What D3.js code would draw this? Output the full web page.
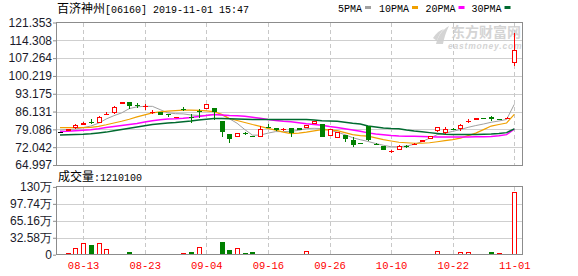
<!DOCTYPE html>
<html>
<head>
<meta charset="utf-8">
<script src="https://cdn.jsdelivr.net/npm/d3@7"></script>
<style>
  body { margin: 0; background: #fff; }
  svg { display: block; }
</style>
</head>
<body>
<svg id="chart" width="578" height="276"></svg>
<script>
// ---- data ----
const dates = ["08-08","08-09","08-12","08-13","08-14","08-15","08-16","08-19","08-20","08-21",
  "08-22","08-23","08-26","08-27","08-28","08-29","08-30","09-02","09-03","09-04",
  "09-05","09-06","09-09","09-10","09-11","09-12","09-13","09-16","09-17","09-18",
  "09-19","09-20","09-23","09-24","09-25","09-26","09-27","09-30","10-02","10-03",
  "10-04","10-08","10-09","10-10","10-11","10-14","10-15","10-16","10-17","10-18",
  "10-21","10-22","10-23","10-24","10-25","10-28","10-29","10-30","10-31","11-01"];

const open = [77.9,78.4,79.5,81.1,82.1,81.7,85.0,85.4,89.1,89.9,
  88.6,88.1,86.0,86.1,85.1,83.8,87.1,84.1,86.5,87.1,
  87.5,82.4,77.2,75.9,77.5,76.6,76.2,80.2,79.5,79.2,
  79.5,79.6,79.7,81.3,81.3,76.5,75.9,76.9,74.9,73.7,
  80.3,73.4,72.6,70.4,71.2,72.6,73.3,74.0,75.6,78.7,
  77.9,79.3,79.2,82.4,82.8,83.6,83.9,83.2,83.4,105.2];
const close = [77.9,79.1,80.8,81.7,81.6,84.1,85.3,87.8,89.9,88.3,
  88.3,88.2,86.1,85.0,85.0,83.9,87.0,84.0,86.2,89.1,
  85.8,78.2,75.1,77.5,77.4,76.5,79.2,80.1,78.8,79.3,
  77.5,78.9,80.8,82.4,76.1,79.1,78.2,75.2,72.9,73.6,
  74.6,73.3,71.2,70.5,72.6,72.5,73.4,74.9,76.6,80.1,
  79.3,79.2,80.7,82.5,83.6,83.5,83.1,83.1,83.5,110.5];
const high = [78.1,79.2,81.1,81.9,83.0,84.5,85.8,88.2,90.0,89.9,
  89.4,89.0,86.7,86.1,85.1,84.0,88.0,85.0,87.0,89.1,
  87.5,82.4,77.2,77.5,78.2,76.6,80.3,81.2,79.8,79.8,
  79.5,79.6,80.8,82.5,81.3,79.2,78.2,76.9,76.2,73.8,
  80.3,73.5,72.6,71.0,72.8,73.1,73.7,75.0,76.6,80.1,
  80.1,79.6,81.2,83.3,83.7,83.7,84.4,83.2,83.8,117.1];
const low = [77.7,78.3,79.4,81.0,81.2,81.6,84.9,85.3,89.0,87.1,
  87.6,86.9,85.2,85.0,84.0,83.8,86.5,81.7,83.6,87.0,
  82.8,76.2,73.8,75.9,76.9,76.4,76.1,79.5,78.4,78.4,
  76.2,78.9,79.7,81.3,76.1,76.5,75.9,74.2,72.1,73.5,
  74.6,73.2,71.0,69.9,71.2,71.6,73.2,74.0,75.4,78.0,
  77.3,79.0,78.6,81.7,82.8,83.4,82.5,83.0,83.3,104.3];

// volume in 万
const volume = [1.5,3.2,12,21.7,18.5,21.7,10.2,1.5,1.5,5.1,
  1.5,1.5,1.5,1.5,1.5,1.5,3.2,5.1,14,1.5,
  1.5,24.3,9,12,3.2,5.1,1.5,1.5,1.5,1.5,
  1.5,1.5,7,1.5,1.5,1.5,1.5,1.5,1.5,1.5,
  1.5,1.5,1.5,1.5,1.5,1.5,1.5,1.5,1.5,7,
  1.5,1.5,5,5,1.5,1.5,5.8,3.8,1.5,121.01];

const ma5 = [78.8,79.0,79.2,79.8,80.4,81.5,83.2,84.5,85.6,87.3,
  88.0,88.2,88.2,86.9,85.6,85.3,85.2,84.8,84.6,84.6,
  85.0,84.8,83.3,81.5,79.0,76.8,76.8,77.6,78.2,78.2,
  78.3,78.7,79.4,79.5,79.4,78.8,78.0,77.0,75.8,75.0,
  74.3,73.5,72.8,72.2,72.2,72.5,73.2,74.2,75.6,77.0,
  77.6,78.3,79.0,79.9,80.6,81.2,81.9,82.4,83.0,89.0];
const ma10 = [79.8,79.8,79.8,79.8,79.9,80.3,80.9,81.6,82.3,83.1,
  84.0,84.8,85.6,86.0,86.3,86.5,86.7,86.7,86.6,86.4,
  86.1,85.0,83.4,82.6,81.8,81.0,80.3,79.5,78.8,78.0,
  77.4,77.6,78.0,78.5,79.0,78.9,78.6,77.8,77.0,76.6,
  76.4,75.7,75.0,74.5,74.0,73.8,73.6,73.6,73.8,74.2,
  74.6,75.0,75.6,76.6,77.6,79.0,80.4,81.0,81.6,85.0];
const ma20 = [78.2,78.3,78.5,78.7,78.9,79.3,79.8,80.2,80.6,81.0,
  81.4,82.0,82.5,82.9,83.2,83.3,83.5,83.8,84.2,84.6,
  85.0,84.8,84.6,84.5,84.3,83.9,83.5,83.0,82.6,82.3,
  82.1,81.7,81.3,81.0,80.7,80.2,79.8,79.3,78.8,78.3,
  77.7,77.3,77.0,76.7,76.5,76.4,76.4,76.3,76.2,76.1,
  76.1,76.1,76.1,76.1,76.2,76.2,76.3,76.6,77.0,79.2];
const ma30 = [76.9,77.0,77.1,77.2,77.4,77.7,78.0,78.5,79.0,79.5,
  80.0,80.5,81.0,81.3,81.6,81.8,82.1,82.4,82.8,83.1,
  83.4,83.4,83.3,83.2,83.1,83.0,83.0,83.0,83.0,83.0,
  83.0,83.0,83.0,82.8,82.5,82.4,82.3,81.9,81.5,81.2,
  80.4,80.0,79.6,79.4,79.3,78.8,78.4,78.1,77.8,77.5,
  77.2,77.1,77.1,77.1,77.1,77.2,77.3,77.5,77.8,79.3];

const priceTicks = [64.997,72.042,79.086,86.131,93.175,100.219,107.264,114.308,121.353];
const volTicks = [0,32.58,65.16,97.74,130.32];
const volTickLabels = ["0","32.58万","65.16万","97.74万","130万"];
const dateTicks = ["08-13","08-23","09-04","09-16","09-26","10-10","10-22","11-01"];
const maNames = ["5PMA","10PMA","20PMA","30PMA"];
const maColors = ["#a0a0a0","#f0a000","#ff00ff","#006a30"];
const lastVolume = "1210100";

// ---- layout ----
const left = 56, right = 522;
const pTop = 22.5, pBottom = 165;
const vTop = 186.9, vBottom = 254.7;
const RED = "#ff0000", GREEN = "#008000";

const svg = d3.select("#chart");

const x = d3.scalePoint().domain(dates).range([60, 514.3]);
const yP = d3.scaleLinear().domain([64.997, 121.353]).range([pBottom, pTop]);
const yV = d3.scaleLinear().domain([0, 130.32]).range([vBottom, vTop]);
const px = d => Math.round(x(d)) + 0.5;

// title
const title = svg.append("text").attr("x", 57).attr("y", 13).attr("fill", "#000");
title.append("tspan").attr("font-family", "Noto Sans CJK SC").attr("font-size", 12).text("百济神州");
title.append("tspan").attr("font-family", "Liberation Mono").attr("font-size", 10).text("[06160] 2019-11-01 15:47");

// legend
const legendX = [338, 379, 425.5, 471.5];
maNames.forEach((name, i) => {
  const t = svg.append("text")
    .attr("x", legendX[i]).attr("y", 12)
    .attr("font-family", "Liberation Mono").attr("font-size", 10)
    .attr("fill", "#000").text(name);
  const w = t.node().getComputedTextLength();
  svg.append("rect")
    .attr("x", legendX[i] + w + 3).attr("y", 6)
    .attr("width", 6).attr("height", 3)
    .attr("fill", maColors[i]);
});

// watermark
const wm = svg.append("g").attr("fill", "#d4d4d4");
wm.append("path").attr("d", "M436,44 C438,36 442,30 449,26 C446,32 444,38 443,44 Z");
wm.append("path").attr("d", "M433,38 C436,33 440,30 444,29 C440,33 438,37 437,41 Z");
wm.append("text").attr("x", 451).attr("y", 37)
  .attr("font-family", "Noto Sans CJK SC").attr("font-size", 14).attr("font-weight", "bold")
  .text("东方财富网");
wm.append("text").attr("x", 448).attr("y", 49)
  .attr("font-family", "Liberation Sans").attr("font-size", 8.5).attr("font-weight", "bold")
  .attr("font-style", "italic").attr("letter-spacing", 0.8)
  .text("eastmoney.com");

// grids
const grid = svg.append("g").attr("shape-rendering", "crispEdges");
grid.selectAll(".hp").data(priceTicks.slice(1, -1)).enter().append("line")
  .attr("x1", left).attr("x2", right)
  .attr("y1", d => Math.round(yP(d)) + 0.5).attr("y2", d => Math.round(yP(d)) + 0.5)
  .attr("stroke", "#cfcfcf");
grid.selectAll(".hv").data(volTicks.slice(1, -1)).enter().append("line")
  .attr("x1", left).attr("x2", right)
  .attr("y1", d => Math.round(yV(d)) + 0.5).attr("y2", d => Math.round(yV(d)) + 0.5)
  .attr("stroke", "#cfcfcf");
[[pTop, pBottom], [vTop, vBottom]].forEach(([a, b]) => {
  grid.selectAll(null).data(dateTicks).enter().append("line")
    .attr("x1", px).attr("x2", px)
    .attr("y1", a).attr("y2", b)
    .attr("stroke", "#c8c8c8").attr("stroke-dasharray", "4,3");
});

// moving averages
const maSeries = [ma5, ma10, ma20, ma30];
const maWidth = [1, 1.2, 1.5, 1.5];
maSeries.forEach((s, k) => {
  const line = d3.line().x((d, i) => x(dates[i])).y(d => yP(d));
  svg.append("path").datum(s)
    .attr("d", line).attr("fill", "none")
    .attr("stroke", maColors[k]).attr("stroke-width", maWidth[k]);
});

// candles
const candles = svg.append("g").attr("shape-rendering", "crispEdges");
const cColor = i => close[i] > open[i] ? RED : close[i] < open[i] ? GREEN : "#000";
dates.forEach((d, i) => {
  const c = cColor(i);
  candles.append("line")
    .attr("x1", px(d)).attr("x2", px(d))
    .attr("y1", yP(high[i])).attr("y2", yP(low[i]))
    .attr("stroke", c);
  const top = yP(Math.max(open[i], close[i]));
  const h = Math.max(1, yP(Math.min(open[i], close[i])) - top);
  candles.append("rect")
    .attr("x", px(d) - 2).attr("y", Math.round(top) + 0.5)
    .attr("width", 4).attr("height", Math.max(0.1, Math.round(h) - 1))
    .attr("fill", close[i] > open[i] ? "#fff" : c)
    .attr("stroke", c);
});

// volume bars (colour by change from previous close)
const vols = svg.append("g").attr("shape-rendering", "crispEdges");
dates.forEach((d, i) => {
  const up = i === 0 || close[i] >= close[i - 1];
  const c = up ? RED : GREEN;
  const top = Math.round(yV(volume[i])) + 0.5;
  vols.append("rect")
    .attr("x", px(d) - 2).attr("y", top)
    .attr("width", 4).attr("height", Math.max(0.1, Math.round(vBottom) - top - 0.5))
    .attr("fill", up && volume[i] > 4 ? "#fff" : c)
    .attr("stroke", c);
});

// frames
svg.append("rect").attr("x", left + 0.5).attr("y", pTop).attr("width", right - left).attr("height", pBottom - pTop)
  .attr("fill", "none").attr("stroke", "#8c8c8c").attr("shape-rendering", "crispEdges");
svg.append("rect").attr("x", left + 0.5).attr("y", vTop).attr("width", right - left).attr("height", vBottom - vTop)
  .attr("fill", "none").attr("stroke", "#8c8c8c").attr("shape-rendering", "crispEdges");

// axes
const axP = svg.append("g").attr("transform", `translate(${left},0)`)
  .call(d3.axisLeft(yP).tickValues(priceTicks).tickFormat(d3.format(".3f")).tickSize(3).tickPadding(1));
const axV = svg.append("g").attr("transform", `translate(${left},0)`)
  .call(d3.axisLeft(yV).tickValues(volTicks).tickFormat((d, i) => volTickLabels[i]).tickSize(3).tickPadding(1));
[axP, axV].forEach(g => {
  g.select(".domain").remove();
  g.selectAll("line").attr("stroke", "#8c8c8c");
  g.selectAll("text").attr("font-family", "Liberation Sans").attr("font-size", 12).attr("fill", "#1a1a2a");
});
axV.selectAll("text").attr("dy", "0.3em");

const axX = svg.append("g").attr("transform", `translate(0,${vBottom})`)
  .call(d3.axisBottom(x).tickValues(dateTicks).tickSize(0).tickPadding(7));
axX.select(".domain").remove();
axX.selectAll("text").attr("font-family", "Liberation Mono").attr("font-size", 10.5).attr("fill", RED);

// volume caption
const cap = svg.append("text").attr("x", 58).attr("y", 181).attr("fill", "#000");
cap.append("tspan").attr("font-family", "Noto Sans CJK SC").attr("font-size", 12).text("成交量");
cap.append("tspan").attr("font-family", "Liberation Mono").attr("font-size", 10).text(":" + lastVolume);
</script>
</body>
</html>
